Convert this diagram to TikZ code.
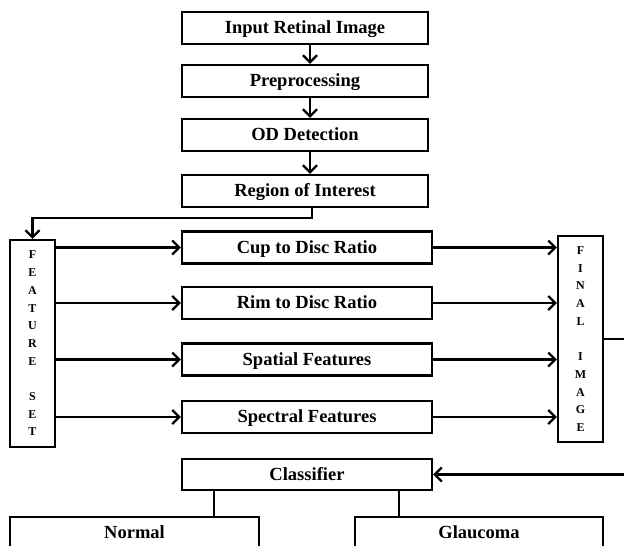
\documentclass[tikz,border=0pt]{standalone}
\usepackage{fontspec}
\setmainfont{Liberation Serif}
\usepackage{tikz}
\usetikzlibrary{positioning,shapes,arrows.meta}

\tikzset{
    blk/.style={draw,line width=2.4pt,fill=white,minimum height=32pt,inner sep=0pt,
        text height=12.5pt,text depth=1pt,
        font=\bfseries\fontsize{18.5}{20}\selectfont},
    vblk/.style={draw,line width=2.4pt,fill=white,minimum width=45pt,inner sep=0pt,
        align=center,font=\bfseries\fontsize{12}{17.7}\selectfont},
    arr/.style={line width=2.2pt,-{Straight Barb[length=7pt,width=14pt,line width=2.2pt]}},
    ln/.style={line width=2.2pt}
}

\begin{document}
\begin{tikzpicture}[x=1pt,y=-1pt]
        \useasboundingbox (0,0) rectangle (624,546);
        \clip (0,0) rectangle (624,546);
        \fill[white] (0,0) rectangle (624,546);

        % Main chain
        \node[blk,minimum width=246pt] (inp) at (305,28) {Input Retinal Image};
        \node[blk,minimum width=246pt] (pre) at (305,81) {Preprocessing};
        \node[blk,minimum width=246pt] (od) at (305,135) {OD Detection};
        \node[blk,minimum width=246pt] (roi) at (305,191) {Region of Interest};

        \draw[arr] ([xshift=5pt]inp.south) -- ([xshift=5pt]pre.north);
        \draw[arr] ([xshift=5pt]pre.south) -- ([xshift=5pt]od.north);
        \draw[arr] ([xshift=5pt]od.south) -- ([xshift=5pt]roi.north);

        % Feature set and features
        \node[vblk,minimum height=207pt] (fs) at (32.5,343.5) {F\\E\\A\\T\\U\\R\\E\\[17.7pt]S\\E\\T};
        \node[blk,minimum width=250pt] (cup) at (307,247.5) {Cup to Disc Ratio};
        \node[blk,minimum width=250pt] (rim) at (307,303) {Rim to Disc Ratio};
        \node[blk,minimum width=250pt] (spa) at (307,359.5) {Spatial Features};
        \node[blk,minimum width=250pt] (spe) at (307,417) {Spectral Features};
        \node[vblk,minimum height=206pt] (fi) at (580.5,339) {F\\I\\N\\A\\L\\[17.7pt]I\\M\\A\\G\\E};

        \draw[arr] ([xshift=7pt]roi.south) -- ++(0,10) -| (fs.north);

        \foreach \f in {cup,rim,spa,spe}{
            \draw[arr] (\f.west -| fs.east) -- (\f.west);
            \draw[arr] (\f.east) -- (\f.east -| fi.west);
        }

        % Classification
        \node[blk,minimum width=250pt,minimum height=31pt] (cls) at (307,474.5) {Classifier};
        \node[blk,minimum width=249pt] (nor) at (134.5,533) {Normal};
        \node[blk,minimum width=248pt] (gla) at (479,533) {Glaucoma};

        \draw[arr] (fi.east) -- ++(30,0) |- (cls.east);
        \draw[ln] ([xshift=-93pt]cls.south) -- ([xshift=-93pt]cls.south |- nor.north);
        \draw[ln] ([xshift=92pt]cls.south) -- ([xshift=92pt]cls.south |- gla.north);
    \end{tikzpicture}
\end{document}
